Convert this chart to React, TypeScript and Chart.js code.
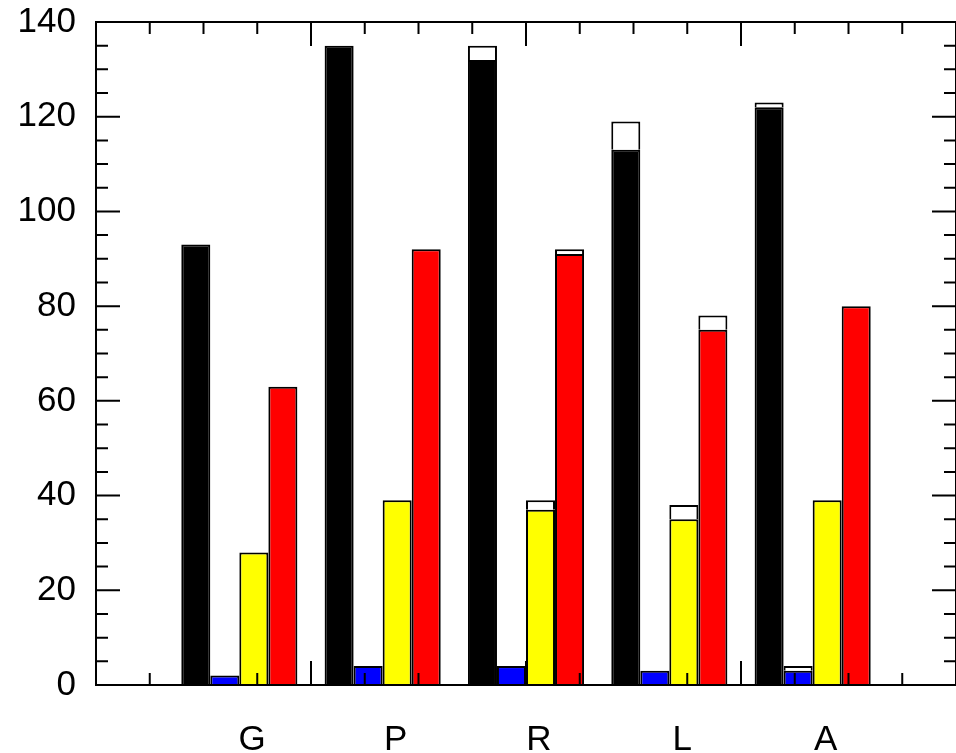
import { useEffect, useRef } from 'react';
import { Chart, registerables } from 'chart.js';

Chart.register(...registerables);

// Categories along the x axis
const categories = ['G', 'P', 'R', 'L', 'A'];

// Solid part of each bar and the open (white) cap stacked on top of it
const blackBase = [93, 135, 132, 113, 122];
const blackCap = [null, null, 3, 6, 1];
const blueBase = [2, 4, 4, 3, 3];
const blueCap = [null, null, null, null, 1];
const yellowBase = [28, 39, 37, 35, 39];
const yellowCap = [null, null, 2, 3, null];
const redBase = [63, 92, 91, 75, 80];
const redCap = [null, null, 1, 3, null];

// Axis ranges and tick spacing
const xRange = [0, 6];
const xMinorStep = 0.375;
const xMajorEvery = 4;
const yRange = [0, 140];
const yMajorStep = 20;
const yMinorStep = 5;
const labelShift = 0.09;

const FONT = "'Liberation Sans', Arial, Helvetica, sans-serif";

const toPoints = (vals: (number | null)[]) =>
  vals.map((v, i) => ({ x: i + 1, y: v }));

const solid = (label: string, data: (number | null)[], color: string, stack: string) => ({
  label,
  data: toPoints(data),
  backgroundColor: color,
  borderColor: '#000',
  borderWidth: 2,
  borderSkipped: 'start' as const,
  stack,
});

const cap = (label: string, data: (number | null)[], stack: string) => ({
  label,
  data: toPoints(data),
  backgroundColor: '#fff',
  borderColor: '#000',
  borderWidth: 2,
  borderSkipped: 'start' as const,
  stack,
});

// Box frame with inward-pointing ticks on all four sides
const frameTicks = {
  id: 'frameTicks',
  afterDatasetsDraw(chart: any) {
    const { ctx, chartArea, scales } = chart;
    const { left, right, top, bottom } = chartArea;
    const x = scales.x;
    const y = scales.y;
    ctx.save();
    ctx.strokeStyle = '#000';
    ctx.lineWidth = 2;
    ctx.beginPath();
    for (let v = yRange[0]; v <= yRange[1]; v += yMinorStep) {
      const py = y.getPixelForValue(v);
      const len = v % yMajorStep === 0 ? 24 : 12;
      ctx.moveTo(left, py);
      ctx.lineTo(left + len, py);
      ctx.moveTo(right, py);
      ctx.lineTo(right - len, py);
    }
    const nx = Math.round((xRange[1] - xRange[0]) / xMinorStep);
    for (let k = 0; k <= nx; k++) {
      const px = x.getPixelForValue(xRange[0] + k * xMinorStep);
      const len = k % xMajorEvery === 0 ? 24 : 12;
      ctx.moveTo(px, top);
      ctx.lineTo(px, top + len);
      ctx.moveTo(px, bottom);
      ctx.lineTo(px, bottom - len);
    }
    ctx.stroke();
    ctx.strokeRect(left, top, right - left, bottom - top);
    ctx.restore();
  },
};

export default function App() {
  const canvasRef = useRef<HTMLCanvasElement | null>(null);

  useEffect(() => {
    const canvas = canvasRef.current;
    if (!canvas) return;
    const chart = new Chart(canvas, {
      type: 'bar',
      data: {
        datasets: [
          solid('black', blackBase, '#000000', 'k'),
          cap('black cap', blackCap, 'k'),
          solid('blue', blueBase, '#0000ff', 'b'),
          cap('blue cap', blueCap, 'b'),
          solid('yellow', yellowBase, '#ffff00', 'y'),
          cap('yellow cap', yellowCap, 'y'),
          solid('red', redBase, '#ff0000', 'r'),
          cap('red cap', redCap, 'r'),
        ] as any,
      },
      options: {
        responsive: false,
        animation: false,
        events: [],
        layout: { padding: { top: 22, right: 0, left: 0, bottom: 0 } },
        datasets: {
          bar: { categoryPercentage: 0.81, barPercentage: 1.0 },
        },
        plugins: {
          legend: { display: false },
          tooltip: { enabled: false },
        },
        scales: {
          x: {
            type: 'linear',
            offset: false,
            min: xRange[0],
            max: xRange[1],
            border: { display: false },
            grid: { display: false, drawTicks: false, offset: false },
            afterBuildTicks: (scale: any) => {
              scale.ticks = categories.map((_, i) => ({ value: i + 1 + labelShift }));
            },
            afterFit: (scale: any) => {
              scale.height = 68;
              scale.paddingLeft = 0;
              scale.paddingRight = 0;
            },
            ticks: {
              autoSkip: false,
              maxRotation: 0,
              padding: 34,
              color: '#000',
              font: { family: FONT, size: 35 },
              callback: (_v: any, i: number) => categories[i],
            },
          },
          y: {
            stacked: true,
            min: yRange[0],
            max: yRange[1],
            border: { display: false },
            grid: { display: false, drawTicks: false },
            afterFit: (scale: any) => {
              scale.width = 96;
              scale.paddingTop = 0;
              scale.paddingBottom = 0;
            },
            ticks: {
              stepSize: yMajorStep,
              padding: 20,
              color: '#000',
              font: { family: FONT, size: 35 },
            },
          },
        },
      } as any,
      plugins: [frameTicks],
    });
    return () => chart.destroy();
  }, []);

  return (
    <div style={{ position: 'fixed', left: 0, top: 0, width: 956, height: 753, background: '#fff' }}>
      <canvas ref={canvasRef} width={956} height={753} style={{ display: 'block' }} />
    </div>
  );
}
